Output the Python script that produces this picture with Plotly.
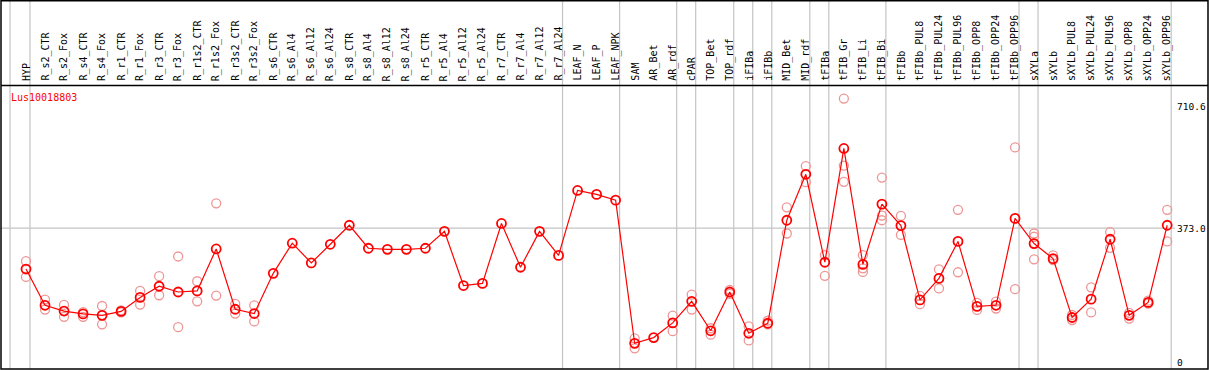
import plotly.graph_objects as go

categories = ["HYP", "R_s2_CTR", "R_s2_Fox", "R_s4_CTR", "R_s4_Fox", "R_r1_CTR", "R_r1_Fox",
              "R_r3_CTR", "R_r3_Fox", "R_r1s2_CTR", "R_r1s2_Fox", "R_r3s2_CTR", "R_r3s2_Fox",
              "R_s6_CTR", "R_s6_Al4", "R_s6_Al12", "R_s6_Al24", "R_s8_CTR", "R_s8_Al4",
              "R_s8_Al12", "R_s8_Al24", "R_r5_CTR", "R_r5_Al4", "R_r5_Al12", "R_r5_Al24",
              "R_r7_CTR", "R_r7_Al4", "R_r7_Al12", "R_r7_Al24", "LEAF_N", "LEAF_P", "LEAF_NPK",
              "SAM", "AR_Bet", "AR_rdf", "cPAR", "TOP_Bet", "TOP_rdf", "iFIBa", "iFIBb",
              "MID_Bet", "MID_rdf", "tFIBa", "tFIB_Gr", "tFIB_Li", "tFIB_Bi", "tFIBb",
              "tFIBb_PUL8", "tFIBb_PUL24", "tFIBb_PUL96", "tFIBb_OPP8", "tFIBb_OPP24",
              "tFIBb_OPP96", "sXYLa", "sXYLb", "sXYLb_PUL8", "sXYLb_PUL24", "sXYLb_PUL96",
              "sXYLb_OPP8", "sXYLb_OPP24", "sXYLb_OPP96"]

mean_values = [259, 158, 142, 134, 130, 141, 180, 211, 195, 198, 315, 147, 135,
               247, 331, 276, 328, 381, 317, 314, 314, 317, 364, 213, 219,
               386, 264, 364, 297, 478, 467, 451,
               52, 68, 109, 169, 87, 195, 80, 108, 395, 523, 278, 595, 272, 440, 380,
               173, 233, 336, 155, 158, 400,
               330, 288, 124, 175, 342, 130, 166, 381]

replicate_values = [
    [281, 237], [174, 146], [159, 126], [139, 126], [156, 105], [144, 138], [198, 160],
    [239, 186], [294, 97], [225, 169], [442, 185], [162, 135], [158, 113],
    [], [], [], [], [], [], [], [], [], [], [], [],
    [], [], [], [], [], [], [],
    [66, 38], [], [129, 86], [188, 146], [94, 76], [201, 190], [99, 60], [115, 105],
    [431, 358], [546, 501], [298, 240], [734, 547, 502], [298, 261, 251], [514, 408, 395],
    [407, 354],
    [184, 161], [258, 205], [424, 250], [165, 145], [168, 149], [598, 203],
    [358, 349, 286], [297, 284], [131, 117], [208, 138], [362, 318], [137, 121],
    [171, 163], [424, 336]]

gene_name = "Lus10018803"
axis_ticks = [0, 373.0, 710.6]
axis_tick_labels = ["0", "373.0", "710.6"]
separators_after = [0, 28, 31, 34, 35, 37, 38, 39, 41, 42, 45, 52, 53, 60]

W, H = 1209, 370
X0, DX = 26.0, 19.02          # pixel of first category, pixel step
Y0, DY = 362.0, 0.3589        # pixel of value 0, pixels per unit

def px_to_x(px):
    return (px - X0) / DX

def py_to_y(py):
    return (Y0 - py) / DY

idx = list(range(len(categories)))

rx, ry = [], []
for i, reps in enumerate(replicate_values):
    for v in reps:
        rx.append(i)
        ry.append(v)

fig = go.Figure()
fig.add_trace(go.Scatter(x=rx, y=ry, mode="markers",
                         marker=dict(symbol="circle-open", size=9, color="rgb(238,150,150)",
                                     line=dict(width=1.3)),
                         hoverinfo="skip", showlegend=False))
fig.add_trace(go.Scatter(x=idx, y=mean_values, mode="lines+markers",
                         line=dict(color="red", width=1.2),
                         marker=dict(symbol="circle-open", size=9, color="red",
                                     line=dict(width=1.8)),
                         showlegend=False))

shapes = []
gray = "#c4c4c4"
for s in [-0.84] + [a + 0.21 for a in separators_after]:
    shapes.append(dict(type="line", xref="x", yref="paper", x0=s, x1=s, y0=1 - 1 / H,
                       y1=1 - 369 / H, line=dict(color=gray, width=1.2), layer="below"))
shapes.append(dict(type="line", xref="paper", yref="y", x0=1 / W, x1=1175 / W,
                   y0=axis_ticks[1], y1=axis_ticks[1], line=dict(color=gray, width=1.2),
                   layer="below"))
blk = dict(color="black", width=1.5)
shapes.append(dict(type="rect", xref="paper", yref="paper", x0=1 / W, x1=1208 / W,
                   y0=1 - 369 / H, y1=1 - 0.8 / H, line=blk))
shapes.append(dict(type="line", xref="paper", yref="paper", x0=1 / W, x1=1208 / W,
                   y0=1 - 85.5 / H, y1=1 - 85.5 / H, line=blk))

annotations = []
for i, c in enumerate(categories):
    annotations.append(dict(x=i, y=py_to_y(83), xref="x", yref="y", text=c, textangle=-90,
                            xanchor="center", yanchor="bottom", showarrow=False,
                            font=dict(family="DejaVu Sans Mono", size=10, color="black")))
annotations.append(dict(x=9 / W, y=1 - 97 / H, xref="paper", yref="paper", text=gene_name,
                        xanchor="left", yanchor="middle", showarrow=False,
                        font=dict(family="DejaVu Sans Mono", size=10, color="red")))
for v, t in zip(axis_ticks, axis_tick_labels):
    annotations.append(dict(x=1176 / W, y=v, xref="paper", yref="y", text=t,
                            xanchor="left", yanchor="middle", showarrow=False, borderpad=0,
                            font=dict(family="DejaVu Sans Mono", size=9.5, color="black")))

fig.update_layout(
    width=W, height=H,
    margin=dict(l=0, r=0, t=0, b=0),
    paper_bgcolor="white", plot_bgcolor="white",
    xaxis=dict(range=[px_to_x(0), px_to_x(W)], visible=False, fixedrange=True),
    yaxis=dict(range=[py_to_y(H), py_to_y(0)], visible=False, fixedrange=True),
    shapes=shapes, annotations=annotations,
)

fig.write_html("out.html", config={"displayModeBar": False},
               post_script="document.body.style.margin='0';")
